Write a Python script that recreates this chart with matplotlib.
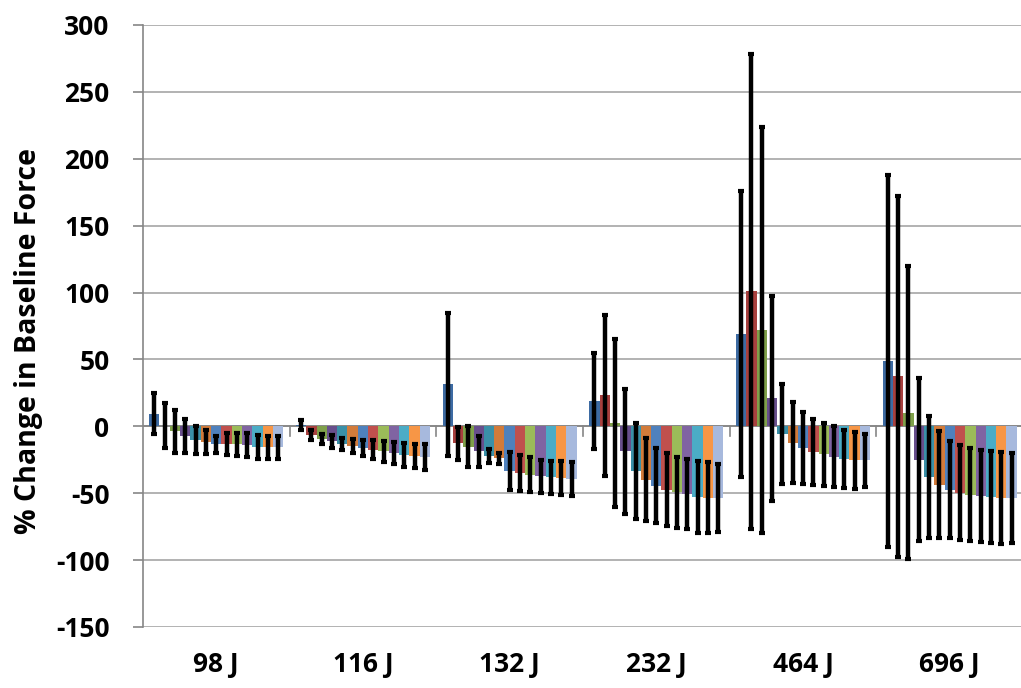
import numpy as np
import matplotlib.pyplot as plt

groups = ['98 J', '116 J', '132 J', '232 J', '464 J', '696 J']

# mean % change, 13 bars per energy level
v98 = [9.5, 0.5, -3.6, -7.0, -10.0, -11.7, -13.4, -13.2, -13.4, -14.3, -15.4, -15.6, -15.7]
v116 = [1.0, -6.5, -9.2, -11.3, -13.3, -15.0, -16.0, -17.5, -18.7, -20.0, -21.3, -22.5, -23.0]
v132 = [31.3, -12.8, -15.3, -18.8, -22.0, -24.0, -33.5, -34.8, -36.2, -37.4, -38.2, -38.9, -39.5]
v232 = [18.9, 23.1, 2.6, -18.8, -33.3, -40.0, -44.3, -47.4, -49.2, -50.7, -52.6, -53.4, -53.6]
v464 = [69.0, 101.0, 72.0, 21.0, -5.6, -12.2, -16.0, -19.1, -21.0, -22.6, -24.3, -25.2, -25.3]
v696 = [48.7, 37.3, 10.0, -24.9, -37.9, -43.8, -47.3, -49.6, -51.0, -51.9, -52.6, -53.5, -53.7]

# error bar half-lengths
e98 = [15.5, 17.0, 16.0, 12.7, 10.5, 8.7, 6.2, 8.5, 8.7, 9.0, 8.7, 8.5, 8.5]
e116 = [3.5, 3.5, 3.7, 4.6, 4.6, 5.3, 6.0, 7.1, 7.7, 8.4, 9.0, 9.0, 9.5]
e132 = [53.7, 12.1, 15.3, 11.3, 5.2, 4.0, 14.0, 13.4, 13.1, 12.5, 12.5, 12.8, 12.7]
e232 = [35.8, 60.0, 63.0, 46.6, 35.8, 31.0, 28.1, 27.2, 26.6, 26.4, 27.0, 26.5, 25.5]
e464 = [107.0, 177.5, 151.7, 76.6, 37.5, 30.4, 27.0, 24.8, 23.6, 22.6, 21.7, 21.3, 19.8]
e696 = [139.0, 134.8, 109.5, 61.0, 45.4, 40.0, 36.0, 35.4, 34.8, 34.5, 34.4, 34.3, 33.8]

colors = ['#3d6ba3', '#a8403e', '#7fa04a', '#684f8c', '#3a90a8', '#d27b3a',
          '#4f81bd', '#c0504d', '#9bbb59', '#8064a2', '#4bacc6', '#f79646', '#a7b9dd']

vals = np.array([v98, v116, v132, v232, v464, v696])
errs = np.array([e98, e116, e132, e232, e464, e696])

plt.rcParams['font.family'] = ['Open Sans', 'DejaVu Sans']
plt.rcParams['font.weight'] = 'bold'
plt.rcParams['axes.unicode_minus'] = False

fig = plt.figure(figsize=(10.21, 6.88), dpi=100)
ax = fig.add_axes([0.140, 0.0887, 0.862, 0.875])

n = vals.shape[1]
w = 0.915 / n
x = np.arange(len(groups))
for i in range(n):
    pos = x - 0.915 / 2 + w * (i + 0.5)
    ax.bar(pos, vals[:, i], width=w, color=colors[i], zorder=2)
    ax.errorbar(pos, vals[:, i], yerr=errs[:, i], fmt='none', ecolor='black',
                elinewidth=3.2, capsize=2.5, capthick=3, zorder=3)

ax.set_xlim(-0.5, len(groups) - 0.5)
ax.set_ylim(-150, 300)
ax.set_yticks(np.arange(-150, 301, 50))
ax.yaxis.grid(True, color='#a6a6a6', linewidth=1.2, zorder=0)
ax.set_axisbelow(True)
ax.axhline(0, color='#868686', linewidth=1.3, zorder=1)
for b in np.arange(0.5, len(groups) - 0.5, 1):
    ax.plot([b, b], [0, -7], color='#868686', linewidth=1.2, zorder=1)

ax.set_xticks(x)
ax.set_xticklabels(groups, fontweight='bold')
ax.tick_params(axis='x', length=0, pad=17, labelsize=19)
ax.tick_params(axis='y', color='#868686', length=7, width=1.2, labelsize=19, pad=17)
for lab in ax.get_yticklabels():
    lab.set_fontweight('bold')
for s in ['top', 'right', 'bottom']:
    ax.spines[s].set_visible(False)
ax.spines['left'].set_color('#868686')
ax.spines['left'].set_linewidth(1.2)
ax.set_ylabel('% Change in Baseline Force', fontsize=20.5, fontweight='bold')
ax.yaxis.set_label_coords(-0.113, 0.475)

fig.savefig('out.png', dpi=100)
